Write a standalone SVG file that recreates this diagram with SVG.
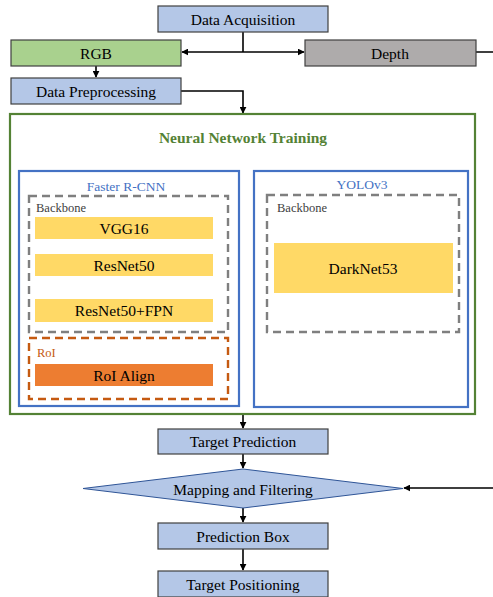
<svg xmlns="http://www.w3.org/2000/svg" width="493" height="597" viewBox="0 0 493 597">
<style>
text{font-family:"Liberation Serif","Times New Roman",serif;text-anchor:middle;dominant-baseline:central}
.lbl{font-size:15.5px;fill:#000}
.box{fill:#B4C7E7;stroke:#404040;stroke-width:1.2}
.conn{fill:none;stroke:#000;stroke-width:1.6}
.yel{fill:#FFD966}
.blue{fill:none;stroke:#4472C4;stroke-width:2.2}
.gdash{fill:none;stroke:#7F7F7F;stroke-width:2.4;stroke-dasharray:8,5}
.odash{fill:none;stroke:#C55A11;stroke-width:2.4;stroke-dasharray:8,5}
.small{font-size:12.5px;text-anchor:start}
</style>
<defs>
<marker id="ah" viewBox="0 0 10 10" refX="9" refY="5" markerWidth="7" markerHeight="7" markerUnits="userSpaceOnUse" orient="auto-start-reverse">
<path d="M0,0 L10,5 L0,10 z" fill="#000"/>
</marker>
</defs>
<g id="connectors">
<path class="conn" d="M243,32 V52"/>
<path class="conn" d="M243,52 H182" marker-end="url(#ah)"/>
<path class="conn" d="M243,52 H304" marker-end="url(#ah)"/>
<path class="conn" d="M96,66 V77" marker-end="url(#ah)"/>
<path class="conn" d="M181,91 H243 V113" marker-end="url(#ah)"/>
<path class="conn" d="M476,52 H496 V488 H404" marker-end="url(#ah)"/>
<path class="conn" d="M243,415 V428" marker-end="url(#ah)"/>
<path class="conn" d="M243,454 V468" marker-end="url(#ah)"/>
<path class="conn" d="M243,508 V522" marker-end="url(#ah)"/>
<path class="conn" d="M243,549 V570" marker-end="url(#ah)"/>
</g>
<g id="data-acquisition">
<rect class="box" x="158" y="6" width="170" height="26"/>
<text class="lbl" x="243" y="19">Data Acquisition</text>
</g>
<g id="rgb">
<rect x="11" y="40" width="170" height="26" fill="#A9D18E" stroke="#404040" stroke-width="1.2"/>
<text class="lbl" x="96" y="53">RGB</text>
</g>
<g id="depth">
<rect x="305" y="40" width="171" height="26" fill="#AEABAB" stroke="#404040" stroke-width="1.2"/>
<text class="lbl" x="390" y="53">Depth</text>
</g>
<g id="data-preprocessing">
<rect class="box" x="11" y="78" width="170" height="26"/>
<text class="lbl" x="96" y="91">Data Preprocessing</text>
</g>
<g id="neural-network-training">
<rect x="10" y="114" width="465" height="300" fill="none" stroke="#548235" stroke-width="2.2"/>
<text x="243" y="137" style="font-size:15.5px;font-weight:bold;fill:#548235">Neural Network Training</text>
</g>
<g id="faster-rcnn">
<rect class="blue" x="19" y="171" width="220" height="235"/>
<text x="126" y="186" style="font-size:13.5px;fill:#4472C4">Faster R-CNN</text>
</g>
<g id="frcnn-backbone">
<rect class="gdash" x="29" y="196" width="199" height="136"/>
<text class="small" x="36" y="208" fill="#404040">Backbone</text>
</g>
<g id="vgg16">
<rect class="yel" x="35" y="217" width="178" height="22"/>
<text class="lbl" x="124" y="228">VGG16</text>
</g>
<g id="resnet50">
<rect class="yel" x="35" y="254" width="178" height="22"/>
<text class="lbl" x="124" y="265">ResNet50</text>
</g>
<g id="resnet50-fpn">
<rect class="yel" x="35" y="299" width="178" height="23"/>
<text class="lbl" x="124" y="310.5">ResNet50+FPN</text>
</g>
<g id="roi">
<rect class="odash" x="29" y="338" width="199" height="61"/>
<text class="small" x="37" y="353" fill="#C55A11">RoI</text>
</g>
<g id="roi-align">
<rect x="35" y="364" width="178" height="22" fill="#ED7D31"/>
<text class="lbl" x="124" y="375">RoI Align</text>
</g>
<g id="yolov3">
<rect class="blue" x="254" y="171" width="214" height="236"/>
<text x="362" y="184" style="font-size:13.5px;fill:#4472C4">YOLOv3</text>
</g>
<g id="yolo-backbone">
<rect class="gdash" x="267" y="195" width="192" height="137"/>
<text class="small" x="277" y="208" fill="#404040">Backbone</text>
</g>
<g id="darknet53">
<rect class="yel" x="274" y="243" width="179" height="50"/>
<text class="lbl" x="363" y="268">DarkNet53</text>
</g>
<g id="target-prediction">
<rect class="box" x="158" y="429" width="170" height="25"/>
<text class="lbl" x="243" y="441.5">Target Prediction</text>
</g>
<g id="mapping-filtering">
<polygon points="83,488.5 243,469 403,488.5 243,508" fill="#B4C7E7" stroke="#2F5597" stroke-width="1"/>
<text class="lbl" x="243" y="489">Mapping and Filtering</text>
</g>
<g id="prediction-box">
<rect class="box" x="158" y="523" width="170" height="26"/>
<text class="lbl" x="243" y="536">Prediction Box</text>
</g>
<g id="target-positioning">
<rect class="box" x="158" y="571" width="170" height="26"/>
<text class="lbl" x="243" y="584">Target Positioning</text>
</g>
</svg>
